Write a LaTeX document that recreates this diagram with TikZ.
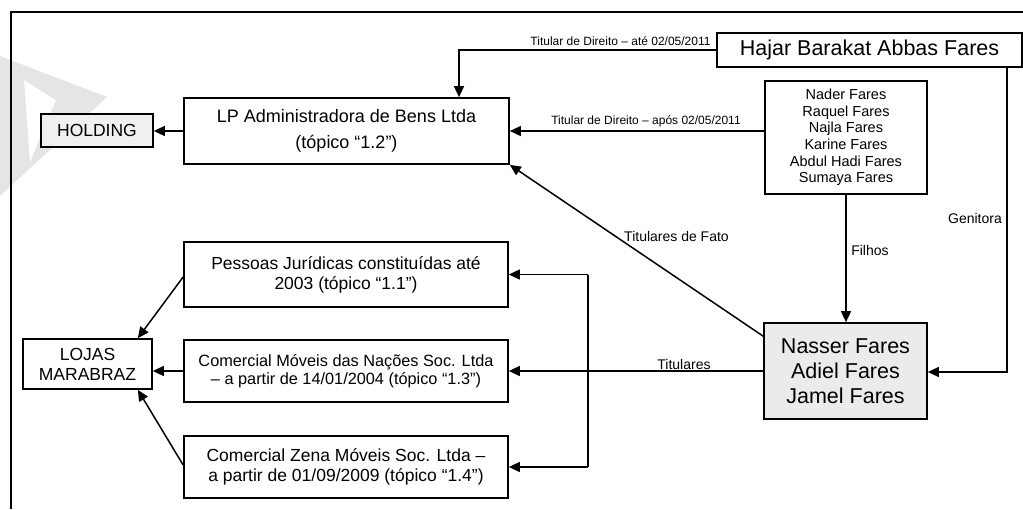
\documentclass[tikz,border=0pt]{standalone}
\usepackage{fontspec}
\setmainfont{Liberation Sans}
\usetikzlibrary{arrows.meta}
\begin{document}
\begin{tikzpicture}[x=1pt,y=-1pt,
  box/.style={draw,line width=1.7pt,rectangle,inner sep=0pt,align=center},
  arr/.style={line width=1.5pt,-{Triangle[length=11pt,width=10pt]}},
  con/.style={line width=1.5pt},
  lblS/.style={inner sep=0pt,font=\fontsize{12}{14}\selectfont},
  lblM/.style={inner sep=0pt,font=\fontsize{14}{16}\selectfont}]
\useasboundingbox (0,0) rectangle (1023,509);
% watermark
\fill[black!10,even odd rule] (0,56) -- (107,97) -- (0,196) -- cycle
  (24,80) -- (56,100) -- (30,162) -- cycle;
% frame
\draw[line width=1.8pt] (11,509) -- (11,12) -- (1023,12);
% nodes
\node[box,fill=black!6,minimum width=112pt,minimum height=33pt,font=\fontsize{17.5}{20}\selectfont] (holding) at (97,130.5) {HOLDING};
\node[box,minimum width=325pt,minimum height=66pt,font=\fontsize{18}{26}\selectfont] (lp) at (346.5,131) {LP Administradora de Bens Ltda\\(tópico “1.2”)};
\node[box,minimum width=305pt,minimum height=34pt,font=\fontsize{21.5}{24}\selectfont] (hajar) at (869.5,50) {Hajar Barakat Abbas Fares};
\node[box,minimum width=162pt,minimum height=113pt,font=\fontsize{14.5}{16.6}\selectfont] (kids) at (846,137.5) {Nader Fares\\Raquel Fares\\Najla Fares\\Karine Fares\\Abdul Hadi Fares\\Sumaya Fares};
\node[box,fill=black!8,minimum width=163pt,minimum height=96pt,font=\fontsize{21.5}{25}\selectfont] (nasser) at (845.5,371) {Nasser Fares\\Adiel Fares\\Jamel Fares};
\node[box,minimum width=324pt,minimum height=65pt,font=\fontsize{17.5}{20}\selectfont] (pj) at (346,274.5) {Pessoas Jurídicas constituídas até\\2003 (tópico “1.1”)};
\node[box,minimum width=324pt,minimum height=62pt,font=\fontsize{16.3}{18.5}\selectfont] (cm) at (346,371) {Comercial Móveis das Nações Soc. Ltda\\– a partir de 14/01/2004 (tópico “1.3”)};
\node[box,minimum width=324pt,minimum height=62pt,font=\fontsize{17.5}{20}\selectfont] (cz) at (346,467) {Comercial Zena Móveis Soc. Ltda –\\a partir de 01/09/2009 (tópico “1.4”)};
\node[box,minimum width=129pt,minimum height=50pt,font=\fontsize{17.5}{20}\selectfont] (lojas) at (87.5,364) {LOJAS\\MARABRAZ};
% helper coordinates
\coordinate (c1) at (459,49);
\coordinate (g) at (1007,372);
\coordinate (bt) at (588,274.5);
\coordinate (bb) at (588,467);
% connectors
\draw[arr] (lp.west) -- (lp.west -| holding.east);
\draw[arr] (hajar.west) -| (lp.north -| c1);
\node[lblS] (l1) at (620.5,41) {Titular de Direito – até 02/05/2011};
\draw[arr] ([yshift=6.5pt]kids.west) -- ([yshift=6.5pt]kids.west -| lp.east);
\node[lblS] (l2) at (646,121) {Titular de Direito – após 02/05/2011};
\draw[arr] ([yshift=-14pt]nasser.north west) -- (lp.south east);
\node[lblM] (l3) at (676.5,236) {Titulares de Fato};
\draw[arr] (kids.south) -- (kids.south |- nasser.north);
\node[lblM] (l4) at (870,250) {Filhos};
\draw[arr] (hajar.south -| g) -- (g) -- (g -| nasser.east);
\node[lblM] (l5) at (975,218) {Genitora};
\draw[arr] (nasser.west) -- (nasser.west -| cm.east);
\node[lblM] (l6) at (684,364) {Titulares};
\draw[con] (bt) -- (bb);
\draw[arr] (bt) -- (bt -| pj.east);
\draw[arr] (bb) -- (bb -| cz.east);
\draw[arr] ([yshift=-2.5pt]pj.west) -- ([xshift=-15pt]lojas.north east);
\draw[arr] (cm.west) -- (cm.west -| lojas.east);
\draw[arr] ([yshift=2pt]cz.west) -- ([xshift=-15pt]lojas.south east);
\end{tikzpicture}
\end{document}
